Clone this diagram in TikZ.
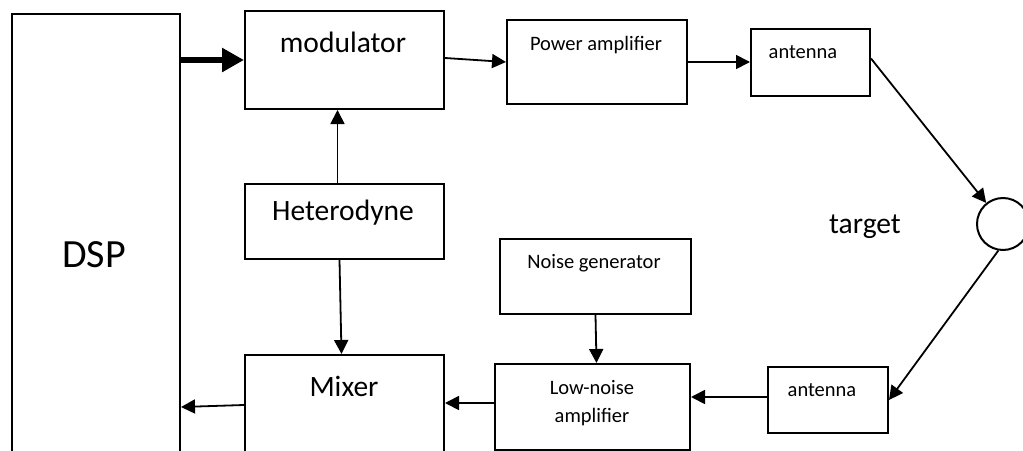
\documentclass[tikz,border=0pt]{standalone}
\usepackage{fontspec}
\setmainfont{Carlito}
\usetikzlibrary{arrows.meta,calc}
\begin{document}
\begin{tikzpicture}[x=1pt,y=-1pt,
  blk/.style={draw=black, line width=2pt, rectangle, inner sep=0pt, anchor=north west},
  small/.style={font=\fontsize{20.5}{24}\selectfont, inner sep=0pt},
  big/.style={font=\fontsize{29.5}{34}\selectfont, inner sep=0pt},
  arr/.style={line width=1.8pt, -{Triangle[length=14pt,width=14pt]}},
  fatarr/.style={line width=6pt, -{Triangle[length=22pt,width=23pt]}}]
\useasboundingbox (0,0) rectangle (1023,450);
\clip (0,0) rectangle (1023,450);
% boxes
\node[blk, minimum width=168pt, minimum height=470pt] (dsp) at (11,13) {};
\node[blk, minimum width=199pt, minimum height=98pt] (mod) at (244,10) {};
\node[blk, minimum width=180pt, minimum height=84pt] (pa) at (506,19) {};
\node[blk, minimum width=119pt, minimum height=67pt] (ant1) at (750,28) {};
\node[blk, minimum width=199pt, minimum height=75pt] (het) at (244,183) {};
\node[blk, minimum width=199pt, minimum height=130pt] (mix) at (244,354) {};
\node[blk, minimum width=191pt, minimum height=75pt] (noise) at (499,238) {};
\node[blk, minimum width=195pt, minimum height=86pt] (lna) at (494,363) {};
\node[blk, minimum width=120pt, minimum height=66pt] (ant2) at (767,366) {};
\node[draw=black, line width=2pt, circle, minimum size=52pt, inner sep=0pt] (tgt) at (1003,224) {};
% texts
\node[font=\fontsize{40}{46}\selectfont, inner sep=0pt] (dspt) at (94,255) {DSP};
\node[big] (modt) at (343,42) {modulator};
\node[small] (pat) at (596,45) {Power amplifier};
\node[small] (ant1t) at (803,52) {antenna};
\node[big] (hett) at (343,213) {Heterodyne};
\node[big] (mixt) at (344,386) {Mixer};
\node[small] (noiset) at (594,263) {Noise generator};
\node[small] (lnat1) at (592,388) {Low-noise};
\node[small] (lnat2) at (592,417) {amplifier};
\node[small] (ant2t) at (822,390) {antenna};
\node[big] (tgtt) at (865,227) {target};
% connectors
\draw[fatarr] (dsp.east |- mod.west) -- (mod.west);
\draw[arr] ($(mod.east)+(0,-2)$) -- (pa.west);
\draw[arr] (pa.east) -- (pa.east -| ant1.west);
\draw[arr] ($(ant1.east)+(0,-4)$) -- (tgt);
\draw[arr] (tgt.-100) -- (ant2.east);
\draw[arr] ($(het.north)+(-7,0)$) -- ($(mod.south)+(-7,0)$);
\draw[arr] ($(het.south)+(-5,0)$) -- ($(mix.north)+(-3,0)$);
\draw[arr] (noise.south) -- ($(lna.north)+(4,0)$);
\draw[arr] ($(ant2.west)+(0,-3)$) coordinate (a2w) -- (lna.east |- a2w);
\draw[arr] ($(lna.west)+(0,-4)$) coordinate (lnw) -- (mix.east |- lnw);
\draw[arr] ($(mix.west)+(0,-15)$) -- ($(dsp.east |- mix.west)+(0,-13)$);
\end{tikzpicture}
\end{document}
